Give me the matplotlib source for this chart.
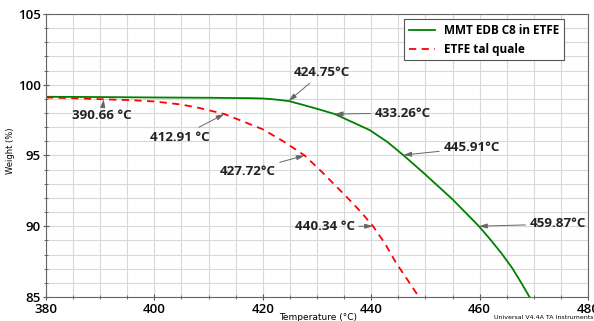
import matplotlib.pyplot as plt
from matplotlib.ticker import MultipleLocator

# TGA curves
temp_mmt = [380, 390, 400, 410, 418, 420, 422, 424.75, 427, 430, 433.26, 436, 439.7,
            443, 445.91, 450, 455, 459.87, 462, 464, 466, 467.6, 469.2]
weight_mmt = [99.15, 99.13, 99.1, 99.08, 99.05, 99.03, 98.97, 98.85, 98.62, 98.3, 97.93, 97.45, 96.8,
              95.95, 95.03, 93.65, 91.9, 90.0, 89.05, 88.1, 87.05, 86.05, 85.0]

temp_etfe = [380, 385, 390.66, 395, 400, 405, 408.4, 412.91, 416, 420, 424, 427.72,
             431, 435.4, 438, 440.34, 442.5, 444.6, 446.8, 448.8]
weight_etfe = [99.1, 99.05, 98.97, 98.92, 98.82, 98.6, 98.35, 97.93, 97.46, 96.85, 95.95, 95.0,
               93.8, 92.1, 91.05, 90.0, 88.8, 87.4, 86.15, 85.0]

# annotation labels: (text, point temperature, point weight, text temperature, text weight)
labels = [
    ("390.66 °C", 390.66, 98.97, 390.3, 97.86),
    ("412.91 °C", 412.91, 97.93, 404.7, 96.3),
    ("424.75°C", 424.75, 98.85, 430.9, 100.83),
    ("433.26°C", 433.26, 97.93, 445.8, 98.0),
    ("445.91°C", 445.91, 95.03, 458.5, 95.53),
    ("427.72°C", 427.72, 95.0, 417.2, 93.9),
    ("440.34 °C", 440.34, 90.0, 431.4, 90.0),
    ("459.87°C", 459.87, 90.0, 474.4, 90.16),
]

plt.rcParams['font.family'] = ['Open Sans', 'DejaVu Sans']

fig = plt.figure(figsize=(5.94, 3.21), dpi=100)
ax = fig.add_axes([0.0774, 0.0748, 0.9126, 0.8816])

ax.plot(temp_mmt, weight_mmt, color='#008000', lw=1.3, label='MMT EDB C8 in ETFE')
ax.plot(temp_etfe, weight_etfe, color='#ff0000', lw=1.3, dashes=(4, 3), label='ETFE tal quale')

for txt, px, py, tx, ty in labels:
    ax.annotate(txt, xy=(px, py), xytext=(tx, ty), ha='center', va='center',
                fontsize=9.6, fontweight='bold', color='#222222',
                arrowprops=dict(arrowstyle='-|>,head_length=0.5,head_width=0.15',
                                color='#666666', lw=0.7, shrinkA=1, shrinkB=0))

ax.set_xlim(380, 480)
ax.set_ylim(85, 105)
ax.xaxis.set_major_locator(MultipleLocator(20))
ax.xaxis.set_minor_locator(MultipleLocator(5))
ax.yaxis.set_major_locator(MultipleLocator(5))
ax.yaxis.set_minor_locator(MultipleLocator(1))
ax.grid(True, which='both', color='#d8d8d8', lw=0.8)
ax.set_axisbelow(True)
ax.tick_params(which='both', direction='inout', color='#555555', labelsize=9.5)
ax.tick_params(which='major', length=5)
ax.tick_params(which='minor', length=3)
ax.tick_params(axis='x', pad=2)
ax.tick_params(axis='y', pad=1)
for lab in ax.get_xticklabels() + ax.get_yticklabels():
    lab.set_fontweight('semibold')
for sp in ax.spines.values():
    sp.set_color('#666666')

leg = ax.legend(loc='upper left', bbox_to_anchor=(0.6605, 0.982), fancybox=False,
                edgecolor='#555555', framealpha=1, borderaxespad=0,
                prop={'size': 8.5, 'weight': 'bold'}, handlelength=2.2)
leg.get_frame().set_linewidth(0.8)

fig.text(0.018, 0.53, 'Weight (%)', rotation=90, fontsize=6, ha='center', va='center',
         family='DejaVu Sans')
fig.text(0.535, 0.012, 'Temperature (°C)', fontsize=6.5, ha='center', va='center',
         family='DejaVu Sans')
fig.text(0.999, 0.003, 'Universal V4.4A TA Instruments', fontsize=4.5, ha='right', va='bottom',
         family='DejaVu Sans')

fig.savefig('out.png', dpi=100)
